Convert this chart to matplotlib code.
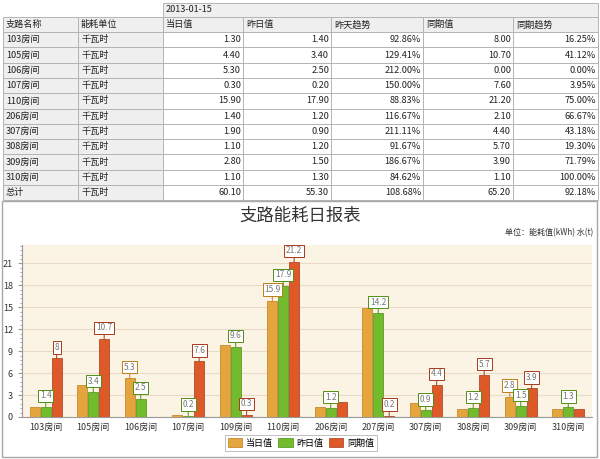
#!/usr/bin/env python3

import numpy as np
import matplotlib
matplotlib.use('Agg')
import matplotlib.pyplot as plt
from matplotlib.patches import Rectangle
from matplotlib.ticker import MultipleLocator

plt.rcParams['font.family'] = ['Noto Sans CJK SC', 'DejaVu Sans']

# ------------------------------------------
# Table data
# ------------------------------------------
report_date = '2013-01-15'
table_header = ['支路名称', '能耗单位', '当日值', '昨日值', '昨天趋势', '同期值', '同期趋势']
room_names = ['103房间', '105房间', '106房间', '107房间', '110房间', '206房间',
              '307房间', '308房间', '309房间', '310房间', '总计']
unit_name = '千瓦时'
today_vals = [1.30, 4.40, 5.30, 0.30, 15.90, 1.40, 1.90, 1.10, 2.80, 1.10, 60.10]
yest_vals = [1.40, 3.40, 2.50, 0.20, 17.90, 1.20, 0.90, 1.20, 1.50, 1.30, 55.30]
yest_trend = [92.86, 129.41, 212.00, 150.00, 88.83, 116.67, 211.11, 91.67, 186.67, 84.62, 108.68]
same_vals = [8.00, 10.70, 0.00, 7.60, 21.20, 2.10, 4.40, 5.70, 3.90, 1.10, 65.20]
same_trend = [16.25, 41.12, 0.00, 3.95, 75.00, 66.67, 43.18, 19.30, 71.79, 100.00, 92.18]

# ------------------------------------------
# Chart data
# ------------------------------------------
chart_title = '支路能耗日报表'
chart_unit = '单位：能耗值(kWh) 水(t)'
categories = ['103房间', '105房间', '106房间', '107房间', '109房间', '110房间',
              '206房间', '207房间', '307房间', '308房间', '309房间', '310房间']
series_names = ['当日值', '昨日值', '同期值']
cur_day = [1.3, 4.4, 5.3, 0.3, 9.9, 15.9, 1.4, 14.9, 1.9, 1.1, 2.8, 1.1]
prev_day = [1.4, 3.4, 2.5, 0.2, 9.6, 17.9, 1.2, 14.2, 0.9, 1.2, 1.5, 1.3]
same_period = [8.0, 10.7, 0.0, 7.6, 0.3, 21.2, 2.1, 0.2, 4.4, 5.7, 3.9, 1.1]
# which bars carry a value label
cur_labeled = [2, 5, 10]
prev_labeled = list(range(12))
same_labeled = [0, 1, 3, 4, 5, 7, 8, 9, 10]


def main():

    fig = plt.figure(figsize=(6.0, 4.59), dpi=100)

    # ------------------------------------------
    # Table (drawn in pixel coordinates)
    # ------------------------------------------
    tab = fig.add_axes([0, 0, 1, 1])
    tab.set_xlim(0, 600)
    tab.set_ylim(459, 0)
    tab.axis('off')

    col_x = [3, 78, 163, 243, 331, 423, 513, 598]
    top_y = 3
    head_y = 17
    row_h = 15.27
    body_y = 32.2
    line_c = '#b4b4b4'
    gray_bg = '#efefef'
    fs = 6.6

    # date row
    tab.add_patch(Rectangle((col_x[2], top_y), col_x[-1] - col_x[2], head_y - top_y,
                            facecolor=gray_bg, edgecolor=line_c, lw=0.7))
    tab.text(col_x[2] + 3, (top_y + head_y) / 2, report_date, fontsize=fs,
             va='center', ha='left', color='#222222')

    # header row
    for i, h in enumerate(table_header):
        tab.add_patch(Rectangle((col_x[i], head_y), col_x[i + 1] - col_x[i], body_y - head_y,
                                facecolor=gray_bg, edgecolor=line_c, lw=0.7))
        tab.text(col_x[i] + 3, (head_y + body_y) / 2, h, fontsize=fs,
                 va='center', ha='left', color='#222222')

    # body rows
    for r, name in enumerate(room_names):
        y0 = body_y + r * row_h
        cells = [name, unit_name,
                 '%.2f' % today_vals[r], '%.2f' % yest_vals[r], '%.2f%%' % yest_trend[r],
                 '%.2f' % same_vals[r], '%.2f%%' % same_trend[r]]
        for i, txt in enumerate(cells):
            bg = gray_bg if i < 2 else 'white'
            tab.add_patch(Rectangle((col_x[i], y0), col_x[i + 1] - col_x[i], row_h,
                                    facecolor=bg, edgecolor=line_c, lw=0.7))
            if i < 2:
                tab.text(col_x[i] + 3, y0 + row_h / 2, txt, fontsize=fs,
                         va='center', ha='left', color='#222222')
            else:
                tab.text(col_x[i + 1] - 2, y0 + row_h / 2, txt, fontsize=fs,
                         va='center', ha='right', color='#222222')

    # chart panel frame
    tab.add_patch(Rectangle((2, 201), 595, 256, facecolor='white',
                            edgecolor='#a8a8a8', lw=1.0))
    tab.text(300, 216, chart_title, fontsize=12.5, ha='center', va='center',
             color='#333333')
    tab.text(593, 233, chart_unit, fontsize=5.8, ha='right', va='center',
             color='#333333')

    # ------------------------------------------
    # Bar chart
    # ------------------------------------------
    ax = fig.add_axes([22 / 600, 42 / 459, 570 / 600, 172 / 459])
    ax.set_facecolor('#fbf3e4')

    x = np.arange(len(categories))
    width = 0.21
    step = 0.23
    colors = ['#e4a53c', '#72bb2c', '#dd5a28']
    edges = ['#c07c1a', '#4f8f15', '#a8381a']
    series = [cur_day, prev_day, same_period]
    labeled = [cur_labeled, prev_labeled, same_labeled]

    for k, vals in enumerate(series):
        xs = x + (k - 1) * step
        ax.bar(xs, vals, width, color=colors[k], edgecolor=edges[k], lw=0.5,
               label=series_names[k], zorder=3)
        for i in labeled[k]:
            v = vals[i]
            ax.annotate('%g' % v, xy=(xs[i], v), xytext=(0, 11),
                        textcoords='offset pixels', ha='center', va='center',
                        fontsize=6, color='#777777', zorder=5,
                        bbox=dict(boxstyle='square,pad=0.2', fc='white',
                                  ec=edges[k], lw=0.7),
                        arrowprops=dict(arrowstyle='-', color=edges[k], lw=0.7,
                                        shrinkA=0, shrinkB=0))

    ax.set_xlim(-0.5, len(categories) - 0.5)
    ax.set_ylim(0, 23.5)
    ax.set_xticks(x)
    ax.set_xticklabels(categories, fontsize=6.5, color='#333333')
    ax.set_yticks(np.arange(0, 22, 3))
    ax.yaxis.set_minor_locator(MultipleLocator(0.6))
    ax.tick_params(axis='y', labelsize=6.5, colors='#333333', length=3, color='#999999')
    ax.tick_params(axis='y', which='minor', length=1.5, color='#999999')
    ax.tick_params(axis='x', length=0, pad=4)
    ax.grid(axis='y', color='#e8dcc6', lw=0.8, zorder=0)
    for s in ['top', 'right']:
        ax.spines[s].set_visible(False)
    ax.spines['left'].set_color('#999999')
    ax.spines['bottom'].set_color('#999999')

    leg = fig.legend(loc='center', bbox_to_anchor=(301 / 600, 1 - 443 / 459), ncol=3,
                     fontsize=6.5, frameon=True, fancybox=False, handlelength=1.6,
                     handleheight=1.2, columnspacing=0.6, handletextpad=0.4,
                     borderpad=0.3)
    leg.get_frame().set_edgecolor('#b0b0b0')
    leg.get_frame().set_linewidth(0.7)

    fig.savefig('out.png', dpi=100)


if __name__ == "__main__":
    main()
